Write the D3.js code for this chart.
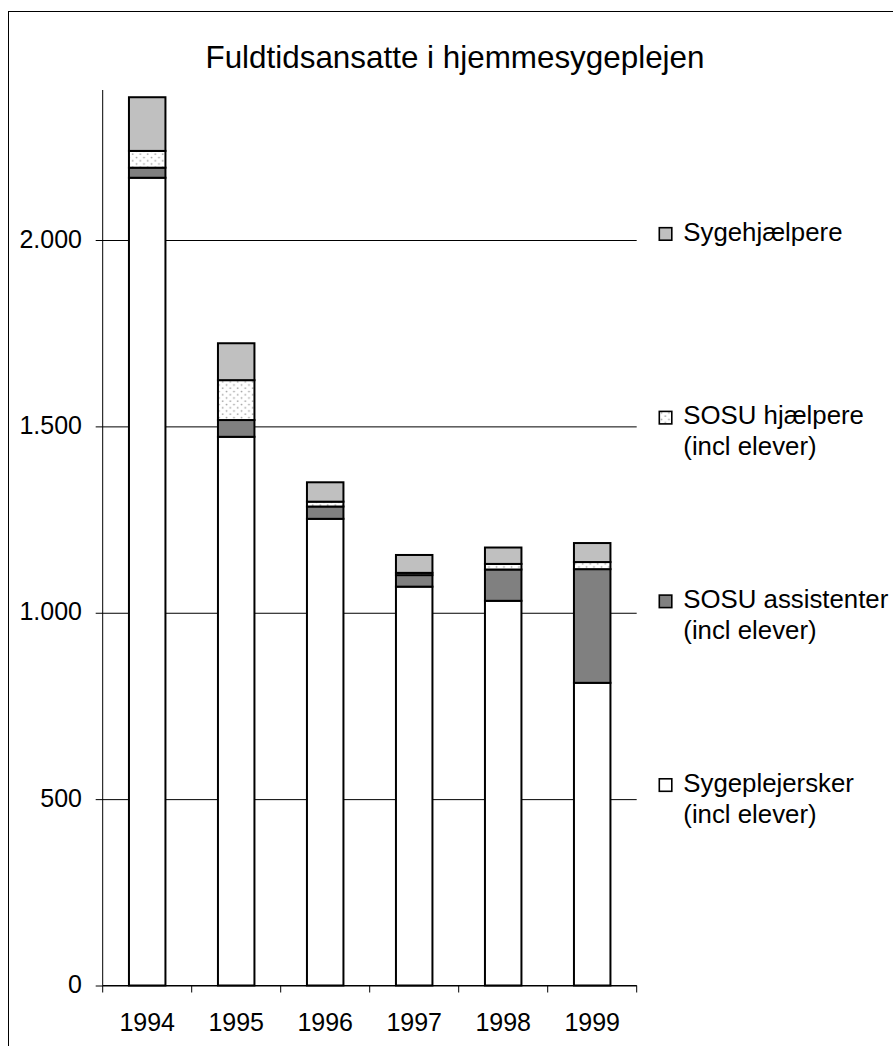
<!DOCTYPE html>
<html>
<head>
<meta charset="utf-8">
<script src="https://cdn.jsdelivr.net/npm/d3@7/dist/d3.min.js"></script>
<style>
  html, body { margin: 0; padding: 0; background: #fff; }
  svg { display: block; font-family: "Liberation Sans", Arial, sans-serif; }
</style>
</head>
<body>
<svg id="chart" width="893" height="1046"></svg>
<script>
// ---- data ----
const years = ["1994", "1995", "1996", "1997", "1998", "1999"];
const sygeplejersker = [2167, 1472, 1252, 1070, 1032, 812];
const sosuAssistenter = [27, 45, 33, 31, 84, 305];
const sosuHjaelpere = [45, 107, 13, 6, 15, 19];
const sygehjaelpere = [144, 99, 52, 48, 44, 51];
const yTicks = [0, 500, 1000, 1500, 2000];
const yTickLabels = ["0", "500", "1.000", "1.500", "2.000"];
const seriesNames = ["Sygeplejersker", "SOSU assistenter", "SOSU hjælpere", "Sygehjælpere"];
const legendLines = [
  ["Sygehjælpere"],
  ["SOSU hjælpere", "(incl elever)"],
  ["SOSU assistenter", "(incl elever)"],
  ["Sygeplejersker", "(incl elever)"]
];
const legendSeries = ["Sygehjælpere", "SOSU hjælpere", "SOSU assistenter", "Sygeplejersker"];
const title = "Fuldtidsansatte i hjemmesygeplejen";

// ---- setup ----
const svg = d3.select("#chart");
const defs = svg.append("defs");
const pat = defs.append("pattern").attr("id", "dots").attr("patternUnits", "userSpaceOnUse")
  .attr("width", 7.5).attr("height", 6.5);
pat.append("rect").attr("width", 7.5).attr("height", 6.5).attr("fill", "#fff");
pat.append("circle").attr("cx", 1.5).attr("cy", 1.5).attr("r", 0.9).attr("fill", "#a0a0a0");
pat.append("circle").attr("cx", 5.25).attr("cy", 4.75).attr("r", 0.9).attr("fill", "#a0a0a0");

const fills = {
  "Sygeplejersker": "#ffffff",
  "SOSU assistenter": "#808080",
  "SOSU hjælpere": "url(#dots)",
  "Sygehjælpere": "#c0c0c0"
};

// outer frame
svg.append("rect").attr("x", 8.5).attr("y", 11.5).attr("width", 1000).attr("height", 1100)
  .attr("fill", "none").attr("stroke", "#000").attr("stroke-width", 1);

const x0 = 102.7, x1 = 636.7;
const x = d3.scaleBand().domain(years).range([x0, x1]).paddingInner(0.59).paddingOuter(0.295);
const y = d3.scaleLinear().domain([0, 2000]).range([985.5, 240]);

// title
svg.append("text").attr("x", 455).attr("y", 68.3).attr("text-anchor", "middle")
  .attr("font-size", 31.4).attr("fill", "#000").text(title);

// gridlines (via axis)
const yAxis = d3.axisLeft(y).tickValues(yTicks).tickSize(-(x1 - x0)).tickFormat("");
const gGrid = svg.append("g").attr("transform", `translate(${x0},0)`).call(yAxis);
gGrid.select(".domain").remove();
gGrid.selectAll(".tick line").attr("stroke", "#000").attr("stroke-width", 1)
  .attr("x1", -7).attr("x2", x1 - x0);

// y labels
svg.append("g").selectAll("text").data(yTicks).join("text")
  .attr("x", 82).attr("y", d => y(d) + 7.5).attr("text-anchor", "end")
  .attr("font-size", 25).attr("fill", "#000")
  .text((d, i) => yTickLabels[i]);

// y axis line
svg.append("line").attr("x1", x0).attr("x2", x0).attr("y1", 90).attr("y2", y(0))
  .attr("stroke", "#000").attr("stroke-width", 1);

// stacked data
const rows = years.map((yr, i) => ({
  year: yr,
  "Sygeplejersker": sygeplejersker[i],
  "SOSU assistenter": sosuAssistenter[i],
  "SOSU hjælpere": sosuHjaelpere[i],
  "Sygehjælpere": sygehjaelpere[i]
}));
const stack = d3.stack().keys(seriesNames)(rows);

svg.append("g").selectAll("g").data(stack).join("g")
  .attr("fill", d => fills[d.key])
  .selectAll("rect").data(d => d).join("rect")
  .attr("x", d => x(d.data.year))
  .attr("width", x.bandwidth())
  .attr("y", d => y(d[1]))
  .attr("height", d => y(d[0]) - y(d[1]))
  .attr("stroke", "#000").attr("stroke-width", 2);

// x axis
svg.append("line").attr("x1", x0).attr("x2", x1).attr("y1", y(0)).attr("y2", y(0))
  .attr("stroke", "#000").attr("stroke-width", 1);
const step = x.step();
const boundaries = d3.range(years.length + 1).map(i => x0 + i * step);
svg.append("g").selectAll("line").data(boundaries).join("line")
  .attr("x1", d => d).attr("x2", d => d).attr("y1", y(0)).attr("y2", y(0) + 7)
  .attr("stroke", "#000").attr("stroke-width", 1);
svg.append("g").selectAll("text").data(years).join("text")
  .attr("x", d => x(d) + x.bandwidth() / 2).attr("y", 1031)
  .attr("text-anchor", "middle").attr("font-size", 25).attr("fill", "#000").text(d => d);

// legend
const legendY = [240.7, 424.4, 608.1, 791.8];
const lg = svg.append("g").selectAll("g").data(legendSeries).join("g")
  .attr("transform", (d, i) => `translate(0,${legendY[i]})`);
lg.append("rect").attr("x", 659.3).attr("y", -13).attr("width", 12.5).attr("height", 12.5)
  .attr("fill", d => fills[d]).attr("stroke", "#000").attr("stroke-width", 1.6);
lg.each(function(d, i) {
  d3.select(this).selectAll("text").data(legendLines[i]).join("text")
    .attr("x", 683.3).attr("y", (t, j) => j * 31)
    .attr("font-size", 25.8).attr("fill", "#000").text(t => t);
});
</script>
</body>
</html>
